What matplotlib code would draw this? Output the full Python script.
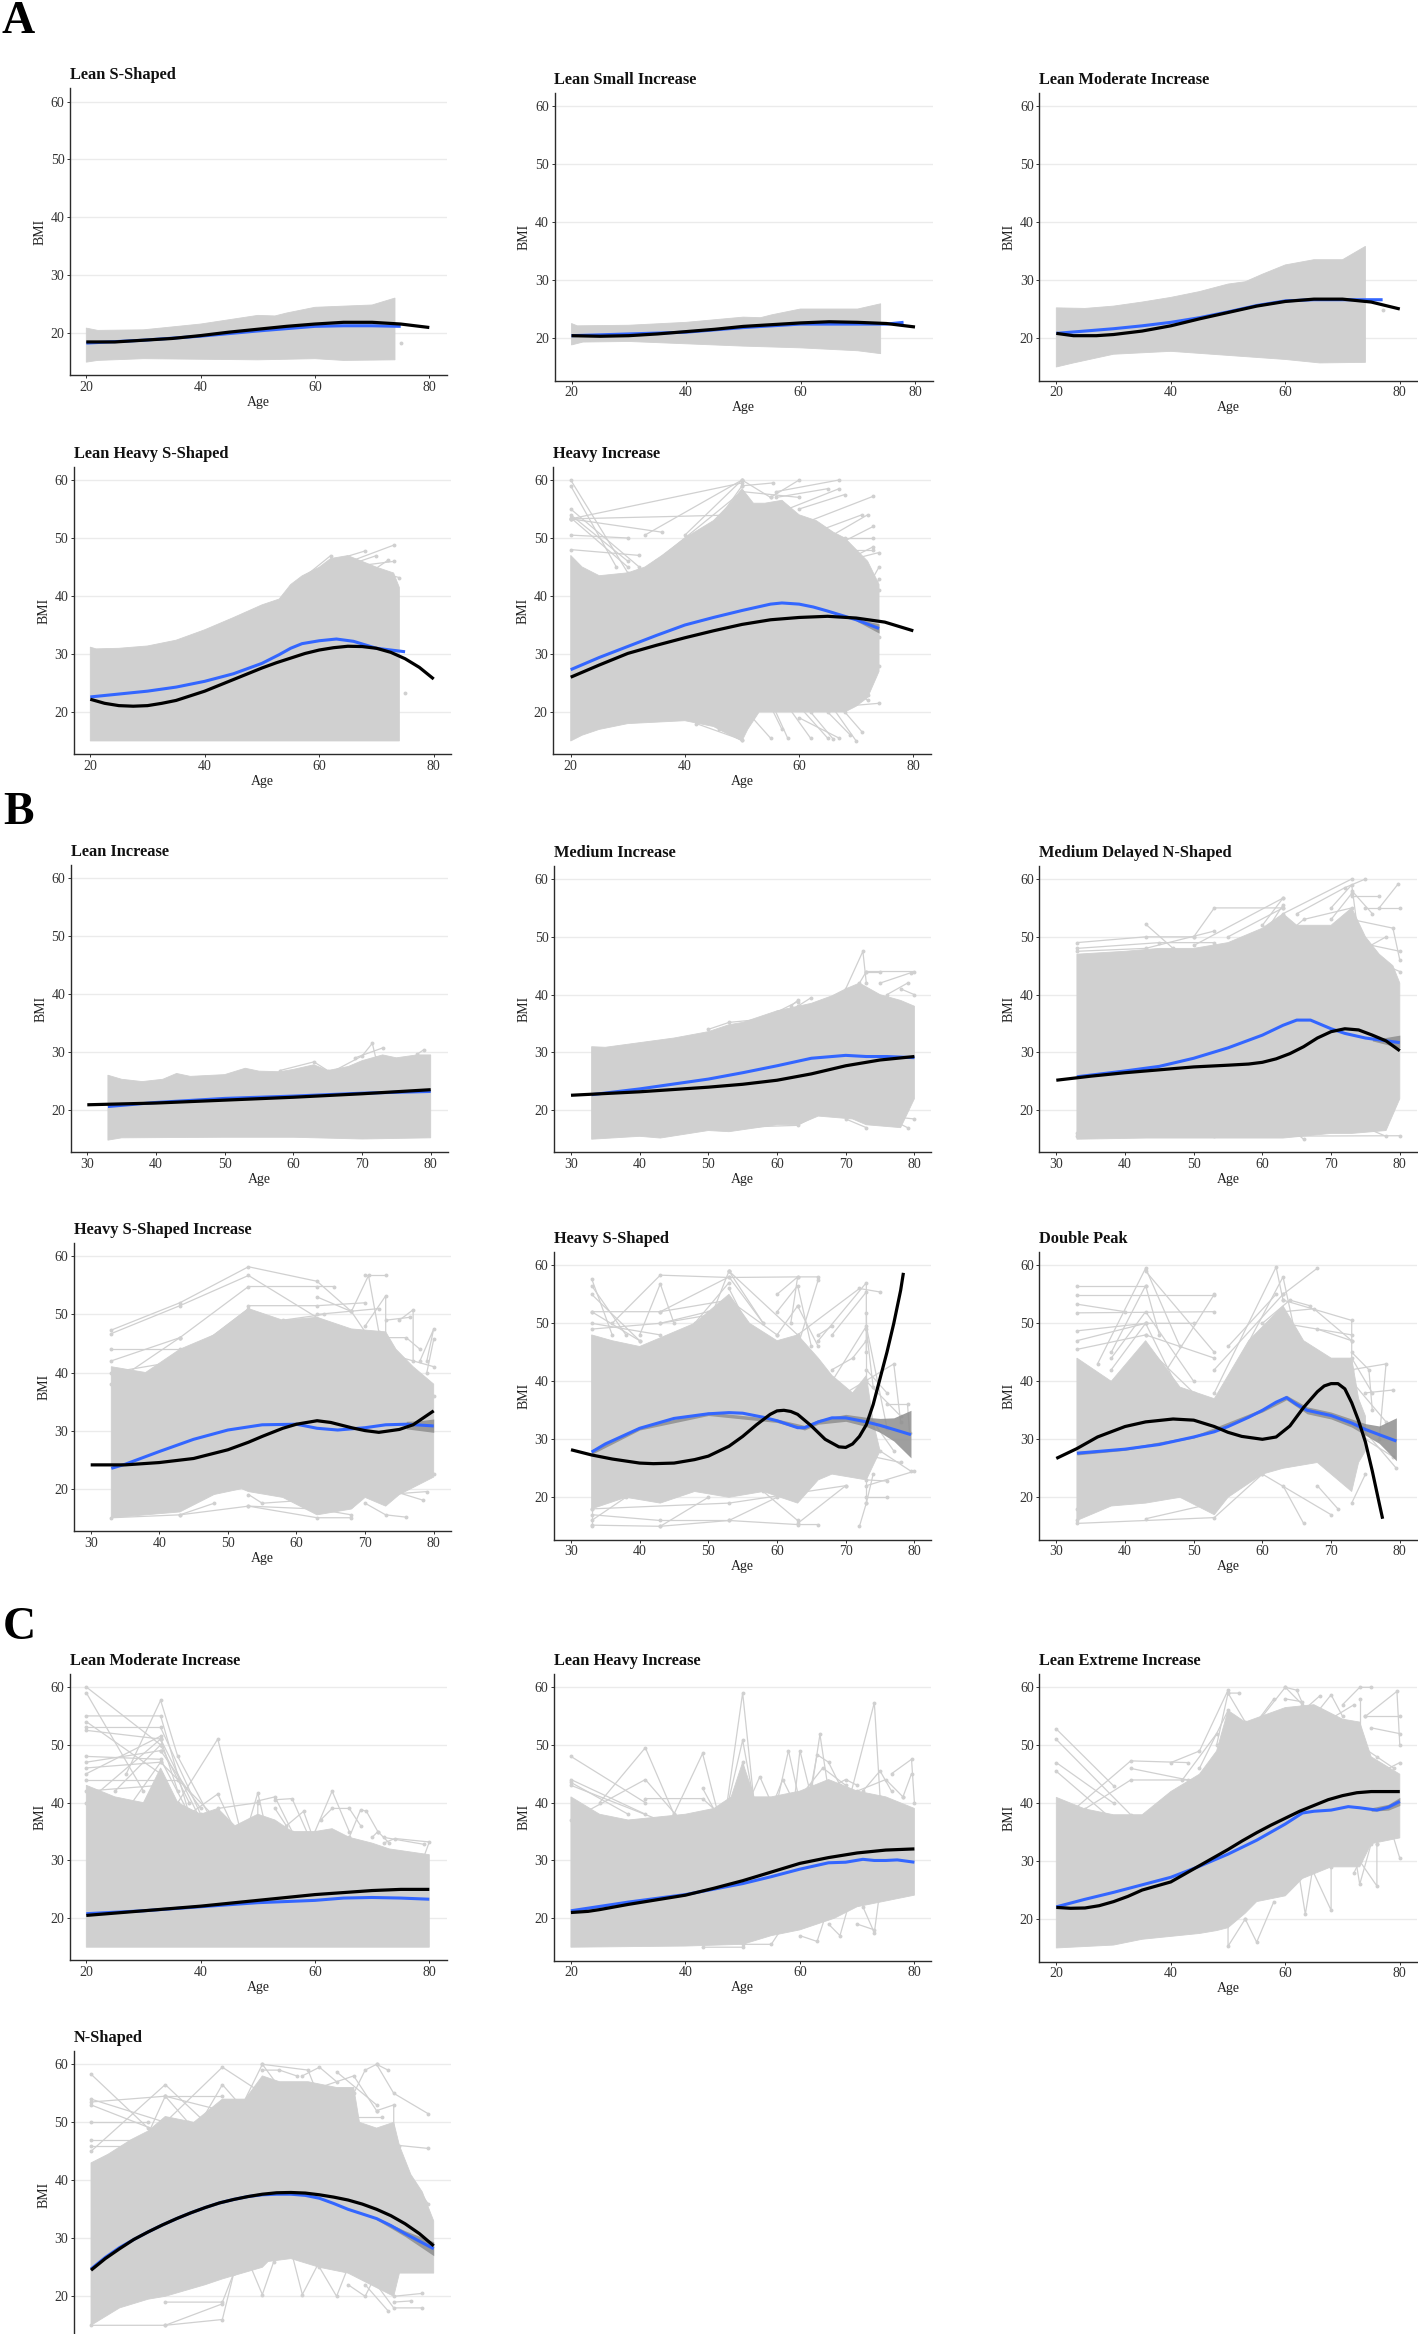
import matplotlib
matplotlib.use("Agg")
import matplotlib.pyplot as plt

plt.rcParams['font.family'] = ['Liberation Serif', 'DejaVu Serif']

# ---------- A ----------
A1_top_age = [20, 22, 30, 40, 50, 53, 55, 60, 70, 74]
A1_top_bmi = [20.8, 20.4, 20.5, 21.5, 23.0, 22.9, 23.4, 24.4, 24.8, 26.0]
A1_low_age = [20, 22, 30, 50, 60, 65, 74]
A1_low_bmi = [14.9, 15.2, 15.5, 15.3, 15.5, 15.2, 15.3]
A1_blue_age = [20, 30, 40, 50, 60, 65, 70, 75]
A1_blue_bmi = [18.2, 18.7, 19.4, 20.3, 21.1, 21.2, 21.2, 21.1]
A1_black_age = [20, 25, 30, 35, 40, 45, 50, 55, 60, 65, 70, 75, 80]
A1_black_bmi = [18.4, 18.4, 18.7, 19.0, 19.5, 20.1, 20.6, 21.1, 21.5, 21.8, 21.8, 21.5, 20.9]
A1_traj = [([75], [18.3])]
A1_ribbon = None

A2_top_age = [20, 21, 30, 40, 50, 53, 55, 60, 70, 74]
A2_top_bmi = [22.5, 22.1, 22.2, 22.7, 23.6, 23.5, 24, 25, 25, 25.9]
A2_low_age = [20, 22, 30, 40, 50, 60, 70, 74]
A2_low_bmi = [18.8, 19.3, 19.4, 19, 18.6, 18.3, 17.8, 17.3]
A2_blue_age = [20, 30, 40, 50, 60, 70, 75, 78]
A2_blue_bmi = [20.4, 20.7, 21.0, 21.8, 22.4, 22.4, 22.4, 22.7]
A2_black_age = [20, 25, 30, 35, 40, 45, 50, 55, 60, 65, 70, 75, 80]
A2_black_bmi = [20.4, 20.3, 20.4, 20.7, 21.1, 21.5, 22.0, 22.3, 22.6, 22.8, 22.7, 22.5, 21.9]
A2_traj = []
A2_ribbon = None

A3_top_age = [20, 25, 30, 35, 40, 45, 50, 53, 56, 60, 65, 70, 74]
A3_top_bmi = [25.2, 25.1, 25.5, 26.2, 27, 28, 29.3, 29.7, 31, 32.6, 33.5, 33.5, 35.8]
A3_low_age = [20, 23, 30, 40, 50, 60, 66, 74]
A3_low_bmi = [15.0, 15.7, 17.2, 17.7, 17, 16.3, 15.7, 15.8]
A3_blue_age = [20, 25, 30, 35, 40, 45, 50, 55, 60, 65, 70, 77]
A3_blue_bmi = [20.8, 21.2, 21.6, 22.1, 22.7, 23.5, 24.5, 25.6, 26.4, 26.6, 26.6, 26.6]
A3_black_age = [20, 23, 27, 30, 35, 40, 45, 50, 55, 60, 65, 70, 75, 80]
A3_black_bmi = [20.8, 20.4, 20.4, 20.6, 21.2, 22.1, 23.3, 24.4, 25.5, 26.3, 26.7, 26.7, 26.2, 25.0]
A3_traj = [([77], [24.9])]
A3_ribbon = None

A4_top_age = [20, 21, 25, 30, 35, 40, 45, 50, 53, 55, 57, 60, 62, 65, 70, 73, 74]
A4_top_bmi = [31.2, 30.9, 31, 31.4, 32.4, 34.2, 36.3, 38.5, 39.5, 42, 43.5, 45, 46.5, 47, 45, 44, 41.5]
A4_low_age = [20, 74]
A4_low_bmi = [15, 15]
A4_blue_age = [20, 25, 30, 35, 40, 45, 50, 53, 55, 57, 60, 63, 66, 70, 75]
A4_blue_bmi = [22.6, 23.1, 23.6, 24.3, 25.3, 26.6, 28.4, 29.9, 31.0, 31.8, 32.3, 32.6, 32.2, 31.0, 30.4]
A4_black_age = [20, 22.5, 25, 27.5, 30, 32.5, 35, 37.5, 40, 42.5, 45, 47.5, 50, 52.5, 55, 57.5, 60, 62.5, 65, 67.5, 70, 72.5, 75, 77.5, 80]
A4_black_bmi = [22.2, 21.5, 21.1, 21.0, 21.1, 21.5, 22.0, 22.8, 23.6, 24.6, 25.6, 26.6, 27.6, 28.5, 29.3, 30.1, 30.7, 31.1, 31.35, 31.3, 31, 30.3, 29.2, 27.7, 25.7]
A4_traj = [([60, 73], [44, 48.8]), ([62, 68], [46, 47.8]), ([65, 73], [45, 46]), ([57, 62], [43, 47]),
           ([64, 70], [45, 47]), ([68, 72], [43.5, 46.2]), ([71, 74], [44, 43.2]), ([75], [23.3])]
A4_ribbon = None

A5_top_age = [20, 22, 25, 30, 33, 36, 40, 45, 48, 50, 52, 54, 57, 60, 63, 66, 68, 70, 72, 74]
A5_top_bmi = [47, 45, 43.5, 44, 45, 47, 50, 53, 56, 58.5, 56, 56, 56.5, 54, 53, 51, 50, 48, 46, 42]
A5_low_age = [20, 22, 25, 30, 40, 45, 49, 50, 51, 53, 55, 60, 65, 68, 70, 72, 74]
A5_low_bmi = [15, 16, 17, 18, 18.5, 17.5, 15.5, 15, 17, 20, 20, 20, 20, 20, 21, 22.5, 27]
A5_blue_age = [20, 25, 30, 35, 40, 45, 50, 55, 57, 60, 62.5, 65, 70, 74]
A5_blue_bmi = [27.3, 29.4, 31.3, 33.2, 35, 36.3, 37.5, 38.6, 38.8, 38.6, 38.1, 37.4, 35.9, 34.4]
A5_black_age = [20, 25, 30, 35, 40, 45, 50, 55, 60, 65, 70, 75, 80]
A5_black_bmi = [26, 28.1, 30.1, 31.5, 32.8, 34, 35.1, 35.9, 36.3, 36.5, 36.2, 35.5, 34]
A5_traj = [([20, 30], [60, 44]), ([20, 28], [59, 45]), ([20, 32], [55, 45]), ([20, 30], [54, 46]), ([20, 30], [53.5, 45]),
           ([20, 36], [53.3, 51]), ([20, 50], [53.3, 59.5]), ([20, 50], [53.3, 54]), ([20, 30], [50.5, 50]),
           ([20, 32], [48, 47]), ([33, 50], [50.5, 60]), ([40, 50], [50.5, 60]), ([35, 50], [46, 58]),
           ([45, 50], [52, 59]), ([50, 55.5], [59, 59.5]), ([50, 55], [60, 57]), ([50, 60], [58, 57]),
           ([55, 60], [57, 60]), ([56, 67], [58, 60]), ([56, 65], [57, 58.5]), ([58, 67], [55, 58.5]),
           ([60, 68], [55, 57.5]), ([62, 73], [53, 57.2]), ([65, 72], [50, 54]), ([60, 71], [50, 54]),
           ([65, 73], [48, 52]), ([68, 74], [46, 47.5]), ([66, 73], [45, 48.5]), ([70, 74], [38, 45]),
           ([72, 74], [38, 43]), ([70, 74], [35, 41]), ([68, 74], [21, 21.5]), ([66, 72], [24, 23]),
           ([70, 74], [27, 28]), ([70, 74], [30, 33]), ([68, 72], [25, 22]), ([68, 73], [50, 50]), ([68, 73], [48, 48]),
           ([50, 55], [21, 15.5]), ([55, 58], [22, 15.5]), ([60, 65], [21, 15.5]), ([65, 70], [22, 15]),
           ([60, 67], [19, 15.5]), ([68, 71], [20, 16.6]), ([65, 69], [20, 16]), ([50, 46], [15.2, 17]),
           ([50, 42], [15.2, 18]), ([55, 57], [21, 17]), ([58, 62], [21, 15.5]), ([62, 66], [20, 15.3])]
A5_ribbon = ([70, 74], [35.7, 33.6], [36.1, 35.2])

# ---------- B ----------
B1_top_age = [33, 35, 38, 41, 43, 45, 50, 53, 55, 58, 60, 63, 65, 68, 70, 73, 75, 78, 80]
B1_top_bmi = [26, 25.3, 24.9, 25.3, 26.3, 25.8, 26.1, 27.2, 26.7, 26.6, 27, 27.8, 26.8, 27.5, 28.5, 29.5, 29, 29.5, 29.5]
B1_low_age = [33, 35, 50, 60, 70, 80]
B1_low_bmi = [14.8, 15.2, 15.3, 15.3, 15, 15.2]
B1_blue_age = [33, 40, 50, 60, 70, 80]
B1_blue_bmi = [20.6, 21.3, 22, 22.4, 22.9, 23.2]
B1_black_age = [30, 40, 50, 60, 70, 80]
B1_black_bmi = [20.9, 21.2, 21.7, 22.2, 22.8, 23.5]
B1_traj = [([58, 63, 65], [26.8, 28.3, 26.8]), ([66, 70, 71.5, 72], [26.8, 29.3, 31.5, 29]),
           ([69, 73], [29, 30.7]), ([78, 79], [29.6, 30.4])]
B1_ribbon = None

B2_top_age = [33, 35, 40, 45, 50, 53, 55, 60, 65, 68, 70, 72, 75, 78, 80]
B2_top_bmi = [31, 30.9, 31.7, 32.5, 33.6, 34.8, 35.2, 37.2, 38.5, 39.8, 41, 42, 40, 39, 38]
B2_low_age = [33, 40, 43, 50, 53, 60, 63, 66, 71, 73, 78, 80]
B2_low_bmi = [15, 15.5, 15.2, 16.5, 16.3, 17.5, 17.5, 19, 18.5, 17.5, 17, 22]
B2_blue_age = [33, 40, 50, 55, 60, 65, 70, 73, 76, 80]
B2_blue_bmi = [22.7, 23.7, 25.4, 26.5, 27.7, 29, 29.5, 29.3, 29.3, 29.1]
B2_black_age = [30, 40, 50, 55, 60, 65, 70, 75, 80]
B2_black_bmi = [22.6, 23.2, 24, 24.5, 25.2, 26.3, 27.7, 28.7, 29.3]
B2_traj = [([70, 72.5, 73], [41, 47.5, 42]), ([72, 73, 80], [42, 44, 44]), ([73, 75], [44, 44]),
           ([75, 79.5], [42, 43.8]), ([62, 63], [38, 39]), ([63, 65], [38, 39.5]), ([60, 63], [37, 38.8]),
           ([50, 53, 60], [34, 35.2, 36]), ([53, 63, 67], [17, 17.4, 20]), ([70, 73], [18.5, 17]),
           ([74, 79], [20, 17]), ([76, 80], [19, 18.5]), ([78, 80], [41, 40]), ([76, 79], [40, 42])]
B2_ribbon = None

B3_top_age = [33, 40, 45, 50, 55, 60, 63, 65, 70, 73, 75, 77, 79, 80]
B3_top_bmi = [47, 47.5, 48, 48, 49, 51.5, 54, 52, 52, 55, 50, 47, 45, 42]
B3_low_age = [33, 43, 53, 63, 70, 73, 78, 80]
B3_low_bmi = [15, 15.2, 15.2, 15.2, 16, 16, 16.5, 22]
B3_blue_age = [33, 40, 45, 50, 55, 60, 63, 65, 67, 70, 72, 75, 80]
B3_blue_bmi = [25.8, 26.8, 27.6, 29, 30.8, 33, 34.7, 35.6, 35.6, 34.1, 33.3, 32.5, 31.7]
B3_black_age = [30, 35, 40, 45, 50, 55, 58, 60, 62, 64, 66, 68, 70, 72, 74, 76, 78, 80]
B3_black_bmi = [25.2, 25.9, 26.5, 27, 27.5, 27.8, 28, 28.3, 28.9, 29.8, 31, 32.5, 33.6, 34.1, 33.9, 33, 32, 30.3]
B3_traj = [([33, 43, 50], [49, 50, 50]), ([33, 45, 53], [48, 49, 49]), ([43, 47], [52.2, 48]),
           ([50, 53, 63], [50, 55, 55]), ([50, 63], [48.5, 56.7]), ([55, 63], [50, 55]), ([60, 63], [52, 56.7]),
           ([63, 73], [54, 60]), ([65, 72, 75], [54, 58.5, 60]), ([70, 73, 74], [55, 59, 50]),
           ([73, 76], [58, 54]), ([75, 80], [55, 55]), ([73, 77], [57, 57]), ([77, 79.8], [55, 59.2]),
           ([73, 79, 80], [53, 51.5, 46]), ([74, 80], [49, 47.5]), ([76, 80], [46, 44]), ([63, 66], [18, 15]),
           ([33, 53, 80], [15.5, 15.5, 15.6]), ([33, 63], [16, 16]), ([73, 78], [18, 15.5]),
           ([33, 43, 53], [47.5, 48, 51]), ([63, 66, 73], [50, 53, 55]), ([60, 63], [50, 55.5]), ([70, 73], [53, 57.5]),
           ([75, 78], [48, 50])]
B3_ribbon = ([76, 78, 80], [32, 31.4, 30.8], [32.4, 32.6, 33])

B4_top_age = [33, 38, 43, 48, 53, 58, 63, 68, 73, 74.5, 77, 80]
B4_top_bmi = [41, 40, 44, 46.5, 51, 49, 49.5, 47.5, 47, 44, 41, 38]
B4_low_age = [33, 38, 43, 48, 52, 53, 58, 63, 68, 70, 73, 75, 80]
B4_low_bmi = [15, 15.5, 16, 19, 20, 19.5, 18.5, 15.5, 16.5, 18.5, 17, 19, 22]
B4_blue_age = [33, 35, 40, 45, 50, 55, 60, 63, 66, 70, 73, 76, 80]
B4_blue_bmi = [23.5, 24.2, 26.4, 28.5, 30.1, 31, 31.1, 30.4, 30.1, 30.5, 31, 31.1, 30.8]
B4_black_age = [30, 35, 40, 45, 50, 53, 55, 58, 60, 63, 65, 68, 70, 72, 75, 77, 80]
B4_black_bmi = [24.1, 24.1, 24.5, 25.2, 26.7, 28, 29, 30.4, 31.1, 31.7, 31.4, 30.5, 30, 29.7, 30.2, 31, 33.4]
B4_traj = [([33, 43, 53, 63, 68], [47.3, 52, 58.2, 55.7, 50.5]), ([33, 43, 53, 65], [46.7, 51.5, 56.7, 48]),
           ([43, 53, 63, 65.5], [46, 54.8, 54.8, 54.8]), ([33, 43], [44, 44]), ([33, 43], [42, 46]),
           ([53, 63, 70], [51.5, 51.5, 52]), ([63, 68, 70], [53, 50.5, 47]), ([70, 73], [56.7, 56.7]),
           ([68, 70.5, 72], [50.5, 56.7, 47]), ([70, 73, 73], [48, 53.2, 45]), ([75, 77, 77], [49, 50.8, 42]),
           ([73, 76.5], [49, 49.5]), ([78, 80, 79], [42, 47.5, 42]), ([79, 80], [40, 45.7]),
           ([33, 43, 53, 63, 68], [15, 15.5, 17, 15, 15]), ([53, 63, 68], [17, 16.5, 15.5]),
           ([70, 73, 76], [17.5, 15.5, 15.1]), ([73, 78.5], [20, 18]), ([73, 79], [19, 19.5]),
           ([73, 76, 78], [46, 46, 44]), ([74, 80], [43, 41]), ([77, 80], [38, 36]), ([76, 80], [24, 22.6]),
           ([33, 43], [40, 42]), ([33, 43], [38, 46]), ([43, 53], [42, 51]), ([45, 53], [44, 50.5]), ([63, 72], [50, 51]),
           ([58, 64], [49, 50]), ([53, 55, 61], [19, 17.5, 18]), ([43, 48], [15.5, 17.5]), ([68, 70], [17, 19.5])]
B4_ribbon = ([76, 78, 80], [30.3, 30, 29.7], [31.6, 31.7, 32])

B5_top_age = [33, 36, 40, 43, 48, 53, 56, 60, 63, 66, 68, 71, 73, 74]
B5_top_bmi = [48, 47, 46, 47.5, 50, 55, 50, 47, 48, 44, 41, 38, 41, 33]
B5_low_age = [33, 38, 43, 48, 53, 58, 63, 66, 68, 73, 75]
B5_low_bmi = [18, 20, 19, 21, 20, 21, 19, 23, 24, 23, 28]
B5_blue_age = [33, 35, 40, 45, 50, 53, 55, 58, 60, 63, 64, 66, 68, 70, 73, 75, 77, 79.5]
B5_blue_bmi = [27.8, 29.2, 31.9, 33.6, 34.4, 34.6, 34.5, 33.8, 33.2, 32.0, 32, 33, 33.7, 33.7, 33, 32.4, 31.7, 30.8]
B5_black_age = [30, 33, 36, 40, 42, 45, 48, 50, 53, 55, 57, 59, 60, 61, 62, 63, 65, 67, 69, 70, 71, 72, 73, 74, 75, 76, 77, 78, 78.4]
B5_black_bmi = [28.2, 27.3, 26.6, 25.9, 25.8, 25.9, 26.5, 27.1, 28.8, 30.5, 32.5, 34.3, 34.9, 35, 34.8, 34.3, 32.3, 30, 28.7, 28.6, 29.2, 30.5, 32.5, 36, 40.5, 45, 50, 55.7, 58.7]
B5_traj = [([33, 36], [57.7, 48]), ([33, 38], [56.5, 48]), ([33, 40], [55, 47]), ([33, 43, 53, 58], [52, 52, 58, 50]),
           ([36, 43, 53, 63, 66], [50, 58.3, 57.9, 58, 58]), ([40, 43, 45], [48, 56.8, 50]), ([53, 58], [59, 50]),
           ([53, 63], [59, 48]), ([50, 53], [50, 59]), ([48, 53], [50, 57]), ([60, 63, 65], [52, 56.5, 46]),
           ([60, 63, 62], [55, 58, 50]), ([63, 66], [46, 57.5]), ([63, 72, 75], [48, 56, 55.4]), ([68, 73], [48, 55.4]),
           ([66, 73, 73], [47, 57, 45]), ([73, 73], [51.7, 40]), ([73, 74], [49, 39]), ([68, 73, 76], [40, 49.5, 32]),
           ([70, 77, 78], [38, 43, 33]), ([76, 79, 79.3], [36, 36, 31]), ([75, 79.5], [28, 24.5]), ([73, 80], [22, 24.5]),
           ([33, 33], [15, 18]), ([33, 38], [16, 20]), ([33, 43, 50], [15.2, 15, 20]), ([33, 43, 53, 60], [17, 16, 16, 20]),
           ([43, 53, 63, 66], [15, 16, 15.3, 15.3]), ([63, 58], [16, 21]), ([63, 70], [15.5, 22]), ([72, 73, 74], [15, 19, 24]),
           ([73, 76], [20, 20]), ([73, 76], [23, 22.8]), ([73, 73], [19, 28]), ([33, 53, 70], [18, 19, 22]),
           ([33, 43], [50, 48]), ([33, 40], [52, 47]), ([33, 43, 53], [49, 50, 52]), ([43, 53], [52, 54]), ([43, 50], [50, 52]),
           ([53, 56], [56, 49]), ([53, 60], [54, 48]), ([60, 63], [48, 53]), ([63, 66], [53, 46]), ([66, 68], [48, 49.5]),
           ([68, 71, 73], [42, 44, 47]), ([73, 76], [42, 38]), ([73, 78], [40, 34]), ([74, 77], [33, 28]), ([74, 78], [27, 26])]
B5_ribbon = ([33, 40, 50, 60, 64, 66, 70, 73, 75, 77, 79.5],
             [27.4, 31.6, 34.1, 32.9, 31.6, 32.6, 33.1, 32.2, 31.2, 29.7, 26.8],
             [28.2, 32.2, 34.7, 33.5, 32.4, 33.4, 34.3, 33.8, 33.6, 33.7, 35])

B6_top_age = [33, 38, 43, 48, 53, 58, 63, 66, 70, 73, 74, 75]
B6_top_bmi = [44, 40, 47, 39, 37, 47, 53, 47, 44, 44, 37, 34]
B6_low_age = [33, 38, 43, 48, 53, 55, 60, 63, 68, 73, 74, 75]
B6_low_bmi = [16, 18.5, 19, 20, 17, 20, 24, 25, 26, 21, 26, 28]
B6_blue_age = [33, 36, 40, 45, 50, 53, 55, 58, 60, 62, 63.5, 65, 66.5, 70, 73, 75, 77, 79.5]
B6_blue_bmi = [27.6, 27.9, 28.3, 29.1, 30.4, 31.3, 32.2, 33.8, 35, 36.4, 37.2, 36, 35, 34.1, 32.8, 31.7, 30.8, 29.7]
B6_black_age = [30, 33, 36, 40, 43, 47, 50, 53, 55, 57, 60, 62, 64, 66, 68, 69, 70, 71, 72, 73, 74, 75, 76, 77, 77.5]
B6_black_bmi = [26.7, 28.4, 30.4, 32.2, 33, 33.5, 33.3, 32.2, 31.2, 30.5, 30, 30.4, 32.3, 35.5, 38.2, 39.2, 39.6, 39.6, 38.7, 36.3, 33.2, 29.5, 24.5, 19, 16.3]
B6_traj = [([33, 43], [56.5, 56.5]), ([33, 53], [54.9, 54.9]), ([33, 40], [53.3, 52]), ([33, 53], [51.8, 52]),
           ([33, 43, 50], [48.7, 50, 50]), ([36, 43, 48], [43, 59.5, 46]), ([38, 43, 45], [45, 56.5, 48]),
           ([38, 43, 50], [44, 52, 40]), ([43, 53], [59, 45]), ([53, 62, 63], [38, 59.7, 54]),
           ([55, 63, 65], [40, 58, 47]), ([63, 68], [55, 59.5]), ([63, 67.5, 73], [52, 52.5, 47]),
           ([63, 73, 73], [54, 50.5, 40]), ([68, 73], [49, 47]), ([73, 75.5, 76], [45, 42, 35]),
           ([73, 78, 77], [42, 43, 30]), ([75, 79], [38, 38.5]), ([73, 79.5], [34, 25]), ([63, 66], [22, 15.5]),
           ([60, 70], [24, 17]), ([68, 71], [22, 18]), ([43, 53], [16.3, 19]), ([33, 33], [16, 18]),
           ([33, 53, 60], [15.5, 16.5, 24]), ([73, 75], [19, 24]), ([55, 62], [46, 55]), ([60, 64, 67], [50, 54, 53]),
           ([33, 43], [47, 50]), ([33, 43], [45.5, 48]), ([38, 43, 48], [42, 50, 38]), ([43, 53], [48, 44]),
           ([43, 50], [46, 38]), ([45, 53], [40, 55]), ([53, 63], [42, 55]), ([63, 73], [50, 48]), ([73, 76], [44, 38]),
           ([73, 78], [40, 33]), ([75, 79], [30, 27])]
B6_ribbon = ([33, 40, 50, 60, 63.5, 66.5, 70, 73, 75, 77, 79.5],
             [27.3, 28.1, 30.2, 34.7, 36.8, 34.4, 33.5, 32.1, 30.7, 29.3, 26.3],
             [27.9, 28.5, 30.6, 35.3, 37.6, 35.6, 34.7, 33.5, 32.7, 32.3, 33.7])

# ---------- C ----------
C1_top_age = [20, 25, 30, 33, 36, 40, 43, 46, 50, 53, 56, 60, 63, 66, 70, 73, 80]
C1_top_bmi = [43, 41, 40, 46, 40, 38, 39, 36, 38, 37, 35, 35, 35.5, 34, 33, 32, 31]
C1_low_age = [20, 80]
C1_low_bmi = [15, 15]
C1_blue_age = [20, 30, 40, 50, 60, 65, 70, 75, 80]
C1_blue_bmi = [20.8, 21.3, 22, 22.7, 23.1, 23.5, 23.6, 23.5, 23.3]
C1_black_age = [20, 30, 40, 50, 60, 70, 75, 80]
C1_black_bmi = [20.5, 21.3, 22.1, 23.1, 24.1, 24.8, 25, 25]
C1_traj = [([20, 33], [60, 50]), ([20, 30], [59, 42]), ([20, 33, 38], [55, 55, 38]), ([20, 33], [54, 45]),
           ([20, 33, 40], [53, 53, 38]), ([20, 33], [52.5, 51]), ([20, 33], [45, 51.5]), ([20, 33, 38], [48, 47.5, 38]),
           ([20, 33, 43], [46, 47, 37]), ([20, 33, 40], [42, 43, 35]), ([20, 33, 40], [40, 51, 37]),
           ([27, 33, 36, 43], [45, 57.7, 48, 35]), ([36, 43, 47], [40, 51, 35]), ([38, 43, 47], [38, 41.5, 33]),
           ([43, 50, 50], [39, 40, 33]), ([48, 50, 52], [35, 41.7, 33]), ([50, 53, 56], [40.3, 41, 35]),
           ([53, 56, 59], [40.5, 40.7, 34]), ([53, 55, 58, 60], [39, 36, 38.5, 33]), ([60, 63, 66], [35, 42, 35]),
           ([61, 63, 66, 68], [37, 39, 39, 36]), ([66, 68, 69, 71], [34, 38.8, 38.5, 35]), ([70, 71, 73], [34, 35, 33]),
           ([72, 74, 80, 79], [33, 33.8, 33.2, 30.5]), ([72, 79], [34, 32.8]), ([33, 36], [51, 42]), ([33, 38], [45, 36]),
           ([20, 33], [47, 49]), ([20, 36], [44, 44]), ([25, 33], [42, 50]), ([28, 33], [40, 47]), ([33, 40], [49, 39]),
           ([33, 38], [50, 40])]
C1_ribbon = None

C2_top_age = [20, 25, 30, 40, 45, 48, 50, 52, 55, 60, 65, 70, 75, 80]
C2_top_bmi = [41, 38, 37, 38, 39, 41, 47, 41, 41, 42, 44, 42, 41, 39]
C2_low_age = [20, 40, 50, 55, 60, 63, 66, 70, 75, 80]
C2_low_bmi = [15, 15.2, 15.5, 17, 18, 19, 20, 22, 23, 24]
C2_blue_age = [20, 30, 40, 50, 55, 60, 65, 68, 71, 73, 75, 77, 80]
C2_blue_bmi = [21.3, 22.8, 24.1, 26, 27.2, 28.5, 29.6, 29.7, 30.2, 30, 30, 30.1, 29.7]
C2_black_age = [20, 23, 25, 30, 35, 40, 45, 50, 55, 60, 65, 70, 75, 80]
C2_black_bmi = [21, 21.2, 21.5, 22.4, 23.2, 24, 25.2, 26.5, 28, 29.5, 30.5, 31.3, 31.8, 32.0]
C2_traj = [([20, 33], [48, 40]), ([20, 33], [44, 38]), ([20, 38], [43, 36]), ([20, 30], [43.5, 38]),
           ([25, 33, 38], [40, 49.5, 38]), ([20, 33, 40], [37, 44, 36]), ([33, 43, 46], [40.7, 40.7, 38]),
           ([38, 43, 46], [38, 48.5, 37]), ([43, 46], [42.5, 37]), ([47, 50, 52], [38, 59, 40]), ([47, 50, 52], [38, 50.8, 40]),
           ([50, 50], [47, 40]), ([51, 53, 55], [40, 44.5, 40]), ([55, 57, 59], [39, 44, 40]), ([56, 58, 60], [40, 49, 40]),
           ([59, 60, 62], [40, 49, 41]), ([62, 63.5, 65], [42, 51.8, 42]), ([62, 63, 65, 67], [43, 48.3, 47, 43]),
           ([69, 73, 74], [42, 57.3, 41]), ([66, 68, 70], [43, 44, 43]), ([71, 74, 76], [42, 45.5, 42]),
           ([76, 79.5, 80], [45, 47.5, 40]), ([78, 79.5], [41, 45]), ([43, 50, 53], [15, 15, 19]),
           ([50, 55, 58], [15.5, 15.5, 20]), ([60, 63, 65], [17, 16, 22]), ([65, 67, 69], [19, 17, 24]),
           ([71, 73, 74], [22, 17.5, 25]), ([70, 73], [19, 18]), ([60, 64, 68], [41, 46, 43]), ([70, 75, 78], [42, 44, 41])]
C2_ribbon = None

C3_top_age = [20, 25, 30, 35, 40, 45, 48, 50, 53, 60, 65, 70, 73, 75, 80]
C3_top_bmi = [41, 39, 38, 38, 42, 45, 49, 56, 54, 56.5, 57, 54.5, 54, 48, 45]
C3_low_age = [20, 30, 35, 40, 45, 48, 50, 53, 55, 60, 63, 68, 73, 75, 80]
C3_low_bmi = [15, 15.5, 16.5, 17, 17.5, 18, 18.5, 21, 23, 24, 27, 29, 29, 33, 34]
C3_blue_age = [20, 25, 30, 35, 40, 45, 50, 55, 60, 63, 65, 68, 71, 73, 76, 78, 80]
C3_blue_bmi = [22.1, 23.4, 24.6, 25.9, 27.2, 29.1, 31.2, 33.6, 36.4, 38.3, 38.6, 38.8, 39.4, 39.2, 38.8, 39.3, 40.3]
C3_black_age = [20, 22.5, 25, 27.5, 30, 32.5, 35, 37.5, 40, 42.5, 45, 47.5, 50, 52.5, 55, 57.5, 60, 62.5, 65, 67.5, 70, 72.5, 75, 77.5, 80]
C3_black_bmi = [22, 21.85, 21.9, 22.3, 23, 23.9, 25, 25.7, 26.4, 27.8, 29.2, 30.6, 32, 33.5, 34.9, 36.2, 37.4, 38.6, 39.6, 40.6, 41.3, 41.8, 42, 42, 42]
C3_traj = [([20, 30], [52.8, 43]), ([20, 33], [51, 38]), ([20, 30], [47, 40]), ([20, 30], [45.5, 37]),
           ([22, 33, 43], [38, 47.3, 47]), ([33, 43], [46, 44]), ([25, 33, 46], [39, 44, 44]), ([40, 45, 50], [47, 49, 59.5]),
           ([48, 50, 52], [50, 59, 59]), ([50, 53], [59, 54]), ([56, 60, 63], [55, 60, 57]), ([60, 62, 64], [60, 59.5, 55]),
           ([60, 63], [58, 57.5]), ([65, 68, 70], [55, 58.7, 55]), ([70, 73, 75], [57, 60, 60]), ([73, 73], [58, 50]),
           ([74, 79.5, 80], [55, 59.3, 50]), ([74, 80], [55, 55]), ([75, 80], [53, 52]), ([73, 76, 79], [50, 48, 46]),
           ([76, 80], [45, 47]), ([72, 73, 75], [32, 26, 33]), ([73, 76, 76], [30, 25.7, 33]), ([62, 63.5, 65], [30, 20.8, 30]),
           ([64, 68, 68], [30, 21.5, 29]), ([50, 50, 53], [22, 15.3, 20]), ([53, 55, 58], [20, 16, 23]),
           ([76, 78, 80], [33, 37, 30.5]), ([72, 73], [28, 30]), ([45, 50], [46, 56]), ([42, 48], [44, 52]), ([55, 58], [54, 58]),
           ([62, 66], [55, 58.5]), ([67, 72], [54, 57])]
C3_ribbon = ([75, 78, 80], [38.6, 38.8, 39.6], [39.2, 39.8, 41])

C4_top_age = [20, 23, 27, 30, 33, 38, 43, 47, 50, 53, 58, 63, 66, 67, 70, 73, 74, 76, 78, 80]
C4_top_bmi = [43, 44.5, 47, 48.5, 51, 50, 54, 54, 58, 57, 57, 56, 56, 50, 49, 50, 46, 41, 38, 33]
C4_low_age = [20, 25, 30, 33, 40, 43, 50, 51, 55, 60, 65, 70, 73, 74, 80]
C4_low_bmi = [15, 18, 19.5, 20, 22, 23, 25, 26, 26.5, 25, 24, 21.5, 20, 24, 24]
C4_blue_age = [20, 22.5, 25, 27.5, 30, 32.5, 35, 37.5, 40, 42.5, 45, 47.5, 50, 52.5, 55, 57.5, 60, 62.5, 65, 67.5, 70, 72.5, 75, 77.5, 80]
C4_blue_bmi = [24.7, 26.7, 28.4, 29.8, 31.1, 32.3, 33.4, 34.4, 35.3, 36.1, 36.7, 37.2, 37.5, 37.6, 37.6, 37.4, 36.9, 36, 35, 34.2, 33.4, 32.2, 30.8, 29.5, 28.2]
C4_black_age = [20, 22.5, 25, 27.5, 30, 32.5, 35, 37.5, 40, 42.5, 45, 47.5, 50, 52.5, 55, 57.5, 60, 62.5, 65, 67.5, 70, 72.5, 75, 77.5, 80]
C4_black_bmi = [24.5, 26.5, 28.2, 29.8, 31.1, 32.3, 33.4, 34.4, 35.3, 36.1, 36.7, 37.2, 37.6, 37.85, 37.9, 37.8, 37.5, 37.1, 36.6, 35.9, 35, 33.9, 32.5, 30.8, 28.7]
C4_traj = [([20, 30], [58.3, 49]), ([20, 33], [54, 50]), ([20, 33, 43], [53.5, 54.5, 52]), ([20, 33], [53, 48]),
           ([20, 30], [50, 50]), ([20, 33], [47, 47]), ([20, 27], [46, 46]), ([20, 33, 40], [45, 56.5, 50]),
           ([30, 33, 37], [48, 54.5, 50]), ([33, 43], [54.5, 54.5]), ([33, 43, 50], [50, 59.5, 55]),
           ([38, 43, 47], [48, 56.5, 52]), ([45, 50, 53], [50, 60, 56]), ([50, 58, 60], [60, 59, 54]),
           ([50, 53, 56], [59, 59, 58]), ([57, 60, 63], [58, 59.5, 57]), ([60, 66, 70], [56, 58, 52]),
           ([63, 70], [58.7, 53]), ([66, 68, 70, 72], [55, 59, 60, 59]), ([70, 73, 79], [60, 55, 51.5]),
           ([70, 73, 73], [52, 53, 45]), ([65, 71], [51, 51]), ([74, 79], [46, 45.5]), ([74, 79], [43, 36]),
           ([75, 79], [42, 32]), ([20, 33, 43], [15, 15, 18.7]), ([33, 43, 45], [15, 16, 24]), ([33, 43, 45], [19, 19, 24]),
           ([48, 50, 52], [25, 20.3, 26]), ([55, 57, 60], [28, 20.3, 26]), ([60, 63, 65], [25, 20, 25]),
           ([65, 68, 70], [22, 20, 24]), ([70, 73, 78], [22, 18, 18]), ([73, 76], [19, 19.2]), ([68, 72], [22, 17.5]),
           ([73, 78], [20, 20.5])]
C4_ribbon = ([70, 75, 80], [33.2, 30.3, 27], [33.6, 31.3, 29.4])

TITLES = ["Lean S-Shaped", "Lean Small Increase", "Lean Moderate Increase", "Lean Heavy S-Shaped", "Heavy Increase",
          "Lean Increase", "Medium Increase", "Medium Delayed N-Shaped", "Heavy S-Shaped Increase", "Heavy S-Shaped",
          "Double Peak", "Lean Moderate Increase", "Lean Heavy Increase", "Lean Extreme Increase", "N-Shaped"]
X_TICKS_20 = [20, 40, 60, 80]
X_TICKS_30 = [30, 40, 50, 60, 70, 80]
Y_TICKS = [20, 30, 40, 50, 60]

PANEL_DATA = [
    (A1_top_age, A1_top_bmi, A1_low_age, A1_low_bmi, A1_blue_age, A1_blue_bmi, A1_black_age, A1_black_bmi, A1_traj, A1_ribbon),
    (A2_top_age, A2_top_bmi, A2_low_age, A2_low_bmi, A2_blue_age, A2_blue_bmi, A2_black_age, A2_black_bmi, A2_traj, A2_ribbon),
    (A3_top_age, A3_top_bmi, A3_low_age, A3_low_bmi, A3_blue_age, A3_blue_bmi, A3_black_age, A3_black_bmi, A3_traj, A3_ribbon),
    (A4_top_age, A4_top_bmi, A4_low_age, A4_low_bmi, A4_blue_age, A4_blue_bmi, A4_black_age, A4_black_bmi, A4_traj, A4_ribbon),
    (A5_top_age, A5_top_bmi, A5_low_age, A5_low_bmi, A5_blue_age, A5_blue_bmi, A5_black_age, A5_black_bmi, A5_traj, A5_ribbon),
    (B1_top_age, B1_top_bmi, B1_low_age, B1_low_bmi, B1_blue_age, B1_blue_bmi, B1_black_age, B1_black_bmi, B1_traj, B1_ribbon),
    (B2_top_age, B2_top_bmi, B2_low_age, B2_low_bmi, B2_blue_age, B2_blue_bmi, B2_black_age, B2_black_bmi, B2_traj, B2_ribbon),
    (B3_top_age, B3_top_bmi, B3_low_age, B3_low_bmi, B3_blue_age, B3_blue_bmi, B3_black_age, B3_black_bmi, B3_traj, B3_ribbon),
    (B4_top_age, B4_top_bmi, B4_low_age, B4_low_bmi, B4_blue_age, B4_blue_bmi, B4_black_age, B4_black_bmi, B4_traj, B4_ribbon),
    (B5_top_age, B5_top_bmi, B5_low_age, B5_low_bmi, B5_blue_age, B5_blue_bmi, B5_black_age, B5_black_bmi, B5_traj, B5_ribbon),
    (B6_top_age, B6_top_bmi, B6_low_age, B6_low_bmi, B6_blue_age, B6_blue_bmi, B6_black_age, B6_black_bmi, B6_traj, B6_ribbon),
    (C1_top_age, C1_top_bmi, C1_low_age, C1_low_bmi, C1_blue_age, C1_blue_bmi, C1_black_age, C1_black_bmi, C1_traj, C1_ribbon),
    (C2_top_age, C2_top_bmi, C2_low_age, C2_low_bmi, C2_blue_age, C2_blue_bmi, C2_black_age, C2_black_bmi, C2_traj, C2_ribbon),
    (C3_top_age, C3_top_bmi, C3_low_age, C3_low_bmi, C3_blue_age, C3_blue_bmi, C3_black_age, C3_black_bmi, C3_traj, C3_ribbon),
    (C4_top_age, C4_top_bmi, C4_low_age, C4_low_bmi, C4_blue_age, C4_blue_bmi, C4_black_age, C4_black_bmi, C4_traj, C4_ribbon),
]

# Layout in pixels: spine x, right x, top y, bottom y, px of first x tick, px of age 80, px of BMI 60, px of BMI 20
LAYOUT = [
    (70.0, 447, 88, 375, 86.3, 429.3, 101.7, 332.7),
    (554.5, 932.6, 93, 380.7, 571.5, 915, 106, 338),
    (1039.3, 1417, 93, 380.7, 1056.3, 1399.8, 106, 338),
    (73.7, 451, 467, 754, 90.3, 433.7, 480.3, 712),
    (553.3, 930.7, 467, 754, 570.7, 913.3, 480, 712),
    (70.7, 448, 865, 1152, 87.3, 430.7, 878, 1110),
    (554, 931.4, 866, 1152.3, 571, 914.4, 879, 1110.3),
    (1039.3, 1417, 866, 1152.3, 1056.3, 1399.8, 879, 1110.3),
    (73.7, 451, 1243, 1531, 90.7, 433.7, 1256.3, 1488.7),
    (554, 931, 1252, 1539.7, 571, 914.4, 1265.3, 1497.3),
    (1039.3, 1417, 1252, 1539.7, 1056.3, 1399.8, 1265.3, 1497.3),
    (69.7, 447, 1674, 1960.3, 86.3, 429.3, 1687, 1918.3),
    (554, 931, 1674, 1960.7, 570.9, 914.4, 1687, 1918.3),
    (1039.3, 1417, 1674, 1961.7, 1056.3, 1399.8, 1687.3, 1919),
    (73.7, 451, 2051, 2338, 91, 433.7, 2064.3, 2296.3),
]
TICK_FIRST = [20] * 5 + [30] * 6 + [20] * 4

W, H = 1418, 2334
GREY = "#D0D0D0"
fig = plt.figure(figsize=(W / 100, H / 100), dpi=100, facecolor="white")

for i, (title, d, lay, first) in enumerate(zip(TITLES, PANEL_DATA, LAYOUT, TICK_FIRST)):
    sx, rx, ty, by, xa, xb, y60, y20 = lay
    top_a, top_b, low_a, low_b, blue_a, blue_b, black_a, black_b, traj, ribbon = d
    ax = fig.add_axes([sx / W, 1 - by / H, (rx - sx) / W, (by - ty) / H])
    ppx = (xb - xa) / (80 - first)
    ppy = (y20 - y60) / 40
    ax.set_xlim(first - (xa - sx) / ppx, 80 + (rx - xb) / ppx)
    ax.set_ylim(20 - (by - y20) / ppy, 60 + (y60 - ty) / ppy)
    for s in ("top", "right"):
        ax.spines[s].set_visible(False)
    for s in ("left", "bottom"):
        ax.spines[s].set_linewidth(1.0)
        ax.spines[s].set_color("#2B2B2B")
    ax.set_xticks(X_TICKS_20 if first == 20 else X_TICKS_30)
    ax.set_yticks(Y_TICKS)
    ax.tick_params(length=2.5, width=0.7, color="#333333", labelsize=10, labelcolor="#333333", pad=1.5)
    ax.yaxis.grid(True, color="#EBEBEB", lw=1.0)
    ax.xaxis.grid(False)
    ax.set_axisbelow(True)
    ax.set_ylabel("BMI", fontsize=10, color="#222222", labelpad=3)
    ax.set_title(title, loc="left", fontsize=11.8, fontweight="bold", color="#111111", pad=6.5)
    if by <= H:
        ax.set_xlabel("Age", fontsize=10, color="#222222", labelpad=1.5)
    else:
        # the reference crops this panel's x axis off the bottom of the figure
        ax.tick_params(axis="x", labelbottom=False, length=0)

    ax.fill(list(top_a) + list(low_a)[::-1], list(top_b) + list(low_b)[::-1],
            color=GREY, lw=0.6, zorder=2)
    for a, b in traj:
        ax.plot(a, b, color=GREY, lw=0.9, marker="o", ms=2.8, mew=0, zorder=2.1)
    if ribbon is not None:
        ax.fill_between(ribbon[0], ribbon[1], ribbon[2], color="#8E8E8E", alpha=0.85, lw=0, zorder=2.5)
    ax.plot(blue_a, blue_b, color="#3366FF", lw=2.2, zorder=3, solid_joinstyle="round", solid_capstyle="butt")
    ax.plot(black_a, black_b, color="black", lw=2.3, zorder=4, solid_joinstyle="round", solid_capstyle="butt")

for letter, x, y in (("A", 2, 33), ("B", 3, 824), ("C", 3, 1639)):
    fig.text(x / W, 1 - y / H, letter, fontsize=33, fontweight="bold", color="black", ha="left", va="baseline")

fig.savefig("out.png", dpi=100, facecolor="white")
